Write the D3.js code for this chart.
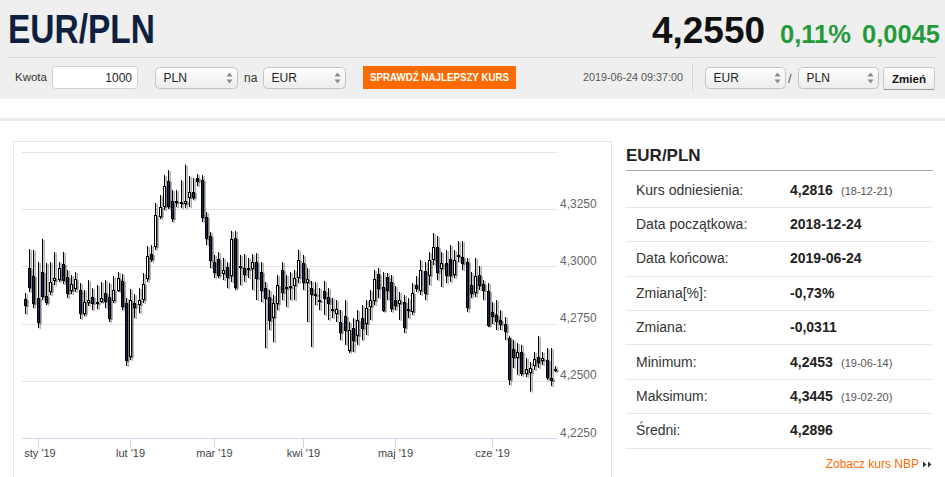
<!DOCTYPE html>
<html>
<head>
<meta charset="utf-8">
<script src="https://cdn.jsdelivr.net/npm/d3@7"></script>
<style>
  html, body { margin: 0; padding: 0; background: #fff; overflow: hidden; }
  svg { display: block; font-family: "Liberation Sans", Arial, sans-serif; }
</style>
</head>
<body>
<svg id="page" width="945" height="477"></svg>
<script>
// ---- data (EUR/PLN daily candles, 2018-12-27 .. 2019-06-24) ----
const opens = [4.2857,4.2993,4.2958,4.2862,4.2975,4.2870,4.2892,4.2940,4.2945,4.3010,
  4.2954,4.2897,4.2905,4.2897,4.2796,4.2844,4.2866,4.2844,4.2849,4.2884,
  4.2866,4.2853,4.2897,4.2936,4.2840,4.2608,4.2840,4.2836,4.2857,4.2949,
  4.3054,4.3089,4.3220,4.3264,4.3373,4.3286,4.3286,4.3281,4.3277,4.3303,
  4.3325,4.3386,4.3377,4.3216,4.3133,4.3019,4.3032,4.2971,4.2997,4.2962,
  4.3124,4.2997,4.2993,4.2989,4.2993,4.3019,4.2975,4.2905,4.2866,4.2779,
  4.2840,4.2984,4.2910,4.2910,4.2918,4.2954,4.3015,4.2932,4.2905,4.2879,
  4.2849,4.2892,4.2866,4.2809,4.2796,4.2757,4.2783,4.2635,4.2731,4.2700,
  4.2774,4.2753,4.2827,4.2853,4.2967,4.2910,4.2954,4.2932,4.2853,4.2840,
  4.2844,4.2809,4.2805,4.2918,4.2897,4.2980,4.2962,4.3032,4.3085,4.2993,
  4.3015,4.3032,4.2967,4.3050,4.3041,4.3019,4.2918,4.2888,4.2962,4.2923,
  4.2892,4.2801,4.2788,4.2766,4.2748,4.2687,4.2639,4.2604,4.2626,4.2534,
  4.2538,4.2569,4.2604,4.2591,4.2591,4.2512,4.2547];
const highs = [4.2884,4.3076,4.3072,4.3019,4.3120,4.3015,4.3019,4.3063,4.3019,4.3063,
  4.2984,4.2962,4.2975,4.2927,4.2897,4.2940,4.2905,4.2918,4.2932,4.2940,
  4.2927,4.2958,4.2975,4.2967,4.2862,4.2901,4.2879,4.2905,4.2971,4.3089,
  4.3093,4.3277,4.3312,4.3399,4.3421,4.3334,4.3334,4.3377,4.3445,4.3395,
  4.3386,4.3404,4.3399,4.3238,4.3150,4.3050,4.3063,4.3037,4.3019,4.3155,
  4.3155,4.3050,4.3054,4.3037,4.3054,4.3058,4.3019,4.2932,4.2897,4.2875,
  4.2962,4.3019,4.2962,4.2975,4.2984,4.3072,4.3050,4.2993,4.2936,4.2932,
  4.2905,4.2936,4.2905,4.2862,4.2853,4.2809,4.2853,4.2757,4.2774,4.2809,
  4.2831,4.2853,4.2897,4.2984,4.2993,4.2975,4.2971,4.2962,4.2914,4.2888,
  4.2875,4.2862,4.2927,4.2958,4.3028,4.3019,4.3063,4.3146,4.3133,4.3063,
  4.3072,4.3093,4.3072,4.3111,4.3111,4.3037,4.2975,4.3037,4.3002,4.2940,
  4.2927,4.2844,4.2853,4.2809,4.2779,4.2696,4.2678,4.2665,4.2657,4.2600,
  4.2582,4.2626,4.2696,4.2626,4.2643,4.2643,4.2565];
const lows = [4.2792,4.2888,4.2818,4.2731,4.2853,4.2831,4.2875,4.2918,4.2932,4.2923,
  4.2862,4.2879,4.2888,4.2770,4.2783,4.2827,4.2809,4.2814,4.2840,4.2818,
  4.2757,4.2840,4.2888,4.2809,4.2565,4.2591,4.2774,4.2796,4.2840,4.2932,
  4.3019,4.3072,4.3207,4.3246,4.3251,4.3194,4.3259,4.3255,4.3255,4.3259,
  4.3290,4.3351,4.3194,4.3093,4.2993,4.2949,4.2949,4.2940,4.2905,4.2932,
  4.2897,4.2918,4.2932,4.2949,4.2897,4.2853,4.2844,4.2643,4.2722,4.2669,
  4.2809,4.2853,4.2823,4.2853,4.2853,4.2927,4.2897,4.2757,4.2648,4.2831,
  4.2809,4.2788,4.2766,4.2774,4.2757,4.2678,4.2657,4.2622,4.2626,4.2657,
  4.2678,4.2700,4.2766,4.2831,4.2862,4.2801,4.2853,4.2801,4.2809,4.2766,
  4.2709,4.2774,4.2788,4.2888,4.2875,4.2853,4.2918,4.3006,4.2940,4.2910,
  4.2927,4.2932,4.2949,4.3019,4.2984,4.2801,4.2862,4.2866,4.2897,4.2853,
  4.2735,4.2748,4.2722,4.2722,4.2678,4.2482,4.2556,4.2525,4.2521,4.2516,
  4.2453,4.2547,4.2556,4.2569,4.2503,4.2477,4.2538];
const closes = [4.2831,4.2910,4.2840,4.2757,4.2870,4.2844,4.2932,4.2949,4.2993,4.2940,
  4.2884,4.2923,4.2945,4.2796,4.2844,4.2853,4.2840,4.2840,4.2862,4.2849,
  4.2774,4.2897,4.2949,4.2827,4.2591,4.2853,4.2823,4.2853,4.2923,4.3045,
  4.3032,4.3224,4.3259,4.3351,4.3264,4.3211,4.3281,4.3277,4.3286,4.3325,
  4.3303,4.3373,4.3216,4.3124,4.3028,4.2975,4.2962,4.2984,4.2954,4.3120,
  4.2910,4.3002,4.2967,4.2993,4.3019,4.2949,4.2897,4.2862,4.2766,4.2840,
  4.2918,4.2888,4.2905,4.2914,4.2949,4.3028,4.2932,4.2945,4.2879,4.2875,
  4.2853,4.2862,4.2840,4.2814,4.2814,4.2713,4.2722,4.2722,4.2678,4.2766,
  4.2731,4.2818,4.2853,4.2945,4.2905,4.2809,4.2897,4.2818,4.2831,4.2853,
  4.2735,4.2814,4.2884,4.2905,4.2984,4.2884,4.3028,4.3085,4.2975,4.3015,
  4.2962,4.2962,4.3028,4.3045,4.3015,4.2823,4.2884,4.2958,4.2918,4.2897,
  4.2744,4.2783,4.2761,4.2748,4.2718,4.2508,4.2604,4.2626,4.2534,4.2551,
  4.2556,4.2595,4.2582,4.2600,4.2516,4.2503,4.2550];

const yTicks = [4.225, 4.25, 4.275, 4.3, 4.325, 4.35];
const monthNames = ['sty', 'lut', 'mar', 'kwi', 'maj', 'cze', 'lip', 'sie', 'wrz', 'paź', 'lis', 'gru'];

const statLabels = ['Kurs odniesienia:', 'Data początkowa:', 'Data końcowa:', 'Zmiana[%]:',
  'Zmiana:', 'Minimum:', 'Maksimum:', 'Średni:'];
const statValues = ['4,2816', '2018-12-24', '2019-06-24', '-0,73%', '-0,0311', '4,2453', '4,3445', '4,2896'];
const statDates = ['(18-12-21)', '', '', '', '', '(19-06-14)', '(19-02-20)', ''];

// trading days: weekdays, no 1 Jan
const dates = d3.timeDay.range(new Date(2018, 11, 27), new Date(2019, 5, 25))
  .filter(d => d.getDay() % 6 !== 0 && !(d.getMonth() === 0 && d.getDate() === 1));

const candles = dates.map((d, i) => ({
  i, date: d, o: opens[i], h: highs[i], l: lows[i], c: closes[i]
}));

const svg = d3.select('#page');
const defs = svg.append('defs');

const grad = defs.append('linearGradient').attr('id', 'selGrad')
  .attr('x1', 0).attr('y1', 0).attr('x2', 0).attr('y2', 1);
grad.append('stop').attr('offset', '0%').attr('stop-color', '#ffffff');
grad.append('stop').attr('offset', '100%').attr('stop-color', '#ececec');

defs.append('filter').attr('id', 'candleShadow')
  .attr('x', '-50%').attr('y', '-10%').attr('width', '250%').attr('height', '130%')
  .append('feDropShadow')
  .attr('dx', 1.6).attr('dy', 1).attr('stdDeviation', 0.5)
  .attr('flood-color', '#000').attr('flood-opacity', 0.5);

// ---- header band ----
svg.append('rect').attr('x', 0).attr('y', 0).attr('width', 945).attr('height', 99).attr('fill', '#efefef');

svg.append('text').attr('x', 8).attr('y', 43)
  .attr('font-size', 40).attr('font-weight', 'bold').attr('fill', '#0f1f3e')
  .attr('textLength', 147).attr('lengthAdjust', 'spacingAndGlyphs')
  .text('EUR/PLN');

svg.append('text').attr('x', 652).attr('y', 43)
  .attr('font-size', 37).attr('font-weight', 'bold').attr('fill', '#111')
  .attr('textLength', 113).attr('lengthAdjust', 'spacingAndGlyphs')
  .text('4,2550');
svg.append('text').attr('x', 780).attr('y', 43)
  .attr('font-size', 26).attr('font-weight', 'bold').attr('fill', '#259a3c')
  .attr('textLength', 71).attr('lengthAdjust', 'spacingAndGlyphs')
  .text('0,11%');
svg.append('text').attr('x', 862).attr('y', 43)
  .attr('font-size', 26).attr('font-weight', 'bold').attr('fill', '#259a3c')
  .attr('textLength', 78).attr('lengthAdjust', 'spacingAndGlyphs')
  .text('0,0045');

svg.append('line').attr('x1', 8).attr('x2', 937).attr('y1', 57.5).attr('y2', 57.5)
  .attr('stroke', '#d8d8d8');

// toolbar
svg.append('text').attr('x', 15).attr('y', 81).attr('font-size', 11.5).attr('fill', '#333').text('Kwota');
svg.append('rect').attr('x', 52.5).attr('y', 66.5).attr('width', 85).attr('height', 22).attr('rx', 3)
  .attr('fill', '#fff').attr('stroke', '#cfcfcf');
svg.append('text').attr('x', 132).attr('y', 81.5).attr('font-size', 12).attr('fill', '#222')
  .attr('text-anchor', 'end').text('1000');

function selectBox(x0, w, label) {
  const g = svg.append('g').attr('transform', `translate(${x0},67.5)`);
  g.append('rect').attr('width', w).attr('height', 21).attr('rx', 4)
    .attr('fill', 'url(#selGrad)').attr('stroke', '#c4c4c4');
  g.append('text').attr('x', 8).attr('y', 14.5).attr('font-size', 12).attr('fill', '#222').text(label);
  g.append('path').attr('d', `M${w - 11},9 l3,-4 l3,4z M${w - 11},12 l3,4 l3,-4z`).attr('fill', '#8a8a8a');
}
selectBox(155.5, 82, 'PLN');
svg.append('text').attr('x', 244).attr('y', 81.5).attr('font-size', 12).attr('fill', '#333').text('na');
selectBox(263.5, 82, 'EUR');

svg.append('rect').attr('x', 363).attr('y', 66).attr('width', 153).attr('height', 23).attr('fill', '#ff6a00');
svg.append('text').attr('x', 439.5).attr('y', 81).attr('font-size', 10.5).attr('font-weight', 'bold')
  .attr('fill', '#fff').attr('text-anchor', 'middle')
  .attr('textLength', 139).attr('lengthAdjust', 'spacingAndGlyphs')
  .text('SPRAWDŹ NAJLEPSZY KURS');

svg.append('text').attr('x', 583).attr('y', 81).attr('font-size', 10.5).attr('fill', '#555')
  .attr('textLength', 100).attr('lengthAdjust', 'spacingAndGlyphs')
  .text('2019-06-24 09:37:00');
svg.append('line').attr('x1', 692.5).attr('x2', 692.5).attr('y1', 63).attr('y2', 92).attr('stroke', '#d6d6d6');
selectBox(705.5, 80, 'EUR');
svg.append('text').attr('x', 788).attr('y', 83).attr('font-size', 13).attr('fill', '#555').text('/');
selectBox(798.5, 80, 'PLN');

svg.append('rect').attr('x', 883.5).attr('y', 67.5).attr('width', 51).attr('height', 22).attr('rx', 2)
  .attr('fill', 'url(#selGrad)').attr('stroke', '#c6c6c6');
svg.append('line').attr('x1', 884).attr('x2', 934).attr('y1', 89.5).attr('y2', 89.5).attr('stroke', '#9a9a9a');
svg.append('text').attr('x', 909).attr('y', 82.5).attr('font-size', 11.5).attr('font-weight', 'bold')
  .attr('fill', '#111').attr('text-anchor', 'middle').text('Zmień');

// strip under header
svg.append('rect').attr('x', 0).attr('y', 118).attr('width', 945).attr('height', 3).attr('fill', '#ebebeb');

// ---- chart box ----
svg.append('rect').attr('x', 13.5).attr('y', 141.5).attr('width', 598).attr('height', 360)
  .attr('fill', 'none').attr('stroke', '#e4e4e4');

const plotLeft = 22, plotRight = 557;
const x = d3.scaleLinear().domain([0, dates.length - 1]).range([25, 555]);
const y = d3.scaleLinear().domain([4.225, 4.35]).range([438, 152]);
const fmt = v => d3.format('.4f')(v).replace('.', ',');

const grid = svg.append('g');
yTicks.slice(1).forEach(v => {
  grid.append('line').attr('x1', plotLeft).attr('x2', plotRight)
    .attr('y1', Math.round(y(v)) + 0.5).attr('y2', Math.round(y(v)) + 0.5)
    .attr('stroke', '#e3e3e3');
});
yTicks.slice(0, -1).forEach(v => {
  grid.append('text').attr('x', 560).attr('y', y(v) - 1.5)
    .attr('font-size', 12).attr('fill', '#666').text(fmt(v));
});

// x axis
const axisY = Math.round(y(4.225)) + 0.5;
svg.append('line').attr('x1', plotLeft).attr('x2', plotRight).attr('y1', axisY).attr('y2', axisY)
  .attr('stroke', '#ccd6eb');
const monthStarts = candles.filter((d, i) => i > 0 && d.date.getMonth() !== candles[i - 1].date.getMonth()
  || (i === 0 && d.date.getDate() === 1));
monthStarts.forEach(d => {
  const tx = Math.round(x(d.i)) + 0.5;
  svg.append('line').attr('x1', tx).attr('x2', tx).attr('y1', axisY).attr('y2', axisY + 9)
    .attr('stroke', '#ccd6eb');
  svg.append('text').attr('x', Math.max(tx, 40)).attr('y', 457).attr('text-anchor', 'middle')
    .attr('font-size', 11).attr('fill', '#444')
    .text(`${monthNames[d.date.getMonth()]} '${String(d.date.getFullYear()).slice(2)}`);
});

// candles (snapped to whole pixels: 3px bodies, 1px wicks)
const cg = svg.append('g').attr('filter', 'url(#candleShadow)');
const px = d => Math.round(x(d.i));
const candle = cg.selectAll('g.candle').data(candles).enter().append('g').attr('class', 'candle');
candle.append('line')
  .attr('x1', d => px(d) + 0.5).attr('x2', d => px(d) + 0.5)
  .attr('y1', d => y(d.h)).attr('y2', d => y(d.l))
  .attr('stroke', '#000').attr('stroke-width', 1);
candle.append('rect')
  .attr('x', d => px(d) - 0.5)
  .attr('width', 2)
  .attr('y', d => Math.round(y(Math.max(d.o, d.c))) + 0.5)
  .attr('height', d => Math.max(1, Math.round(y(Math.min(d.o, d.c))) - Math.round(y(Math.max(d.o, d.c)))))
  .attr('fill', d => d.c >= d.o ? '#ffffff' : '#0d2749')
  .attr('stroke', '#000').attr('stroke-width', 1);

// ---- right panel ----
const panel = svg.append('g');
panel.append('text').attr('x', 626).attr('y', 161).attr('font-size', 17).attr('font-weight', 'bold')
  .attr('fill', '#222').text('EUR/PLN');
panel.append('line').attr('x1', 626).attr('x2', 933).attr('y1', 170.5).attr('y2', 170.5).attr('stroke', '#a5a5a5');

const rowStep = 34.4;
statLabels.forEach((lab, k) => {
  const base = 194.5 + k * rowStep;
  panel.append('text').attr('x', 636).attr('y', base).attr('font-size', 14).attr('fill', '#333').text(lab);
  panel.append('text').attr('x', 790).attr('y', base).attr('font-size', 14).attr('font-weight', 'bold')
    .attr('fill', '#222').text(statValues[k]);
  if (statDates[k]) {
    panel.append('text').attr('x', 841).attr('y', base).attr('font-size', 11).attr('fill', '#555').text(statDates[k]);
  }
  const sy = Math.round(206.7 + k * rowStep) + 0.5;
  panel.append('line').attr('x1', 626).attr('x2', 933).attr('y1', sy).attr('y2', sy).attr('stroke', '#e6e6e6');
});

panel.append('text').attr('x', 919).attr('y', 468).attr('font-size', 12).attr('fill', '#ff6a00')
  .attr('text-anchor', 'end').text('Zobacz kurs NBP');
panel.append('path').attr('d', 'M923,461.5 l3.5,3 l-3.5,3z M928,461.5 l3.5,3 l-3.5,3z').attr('fill', '#333');
</script>
</body>
</html>
